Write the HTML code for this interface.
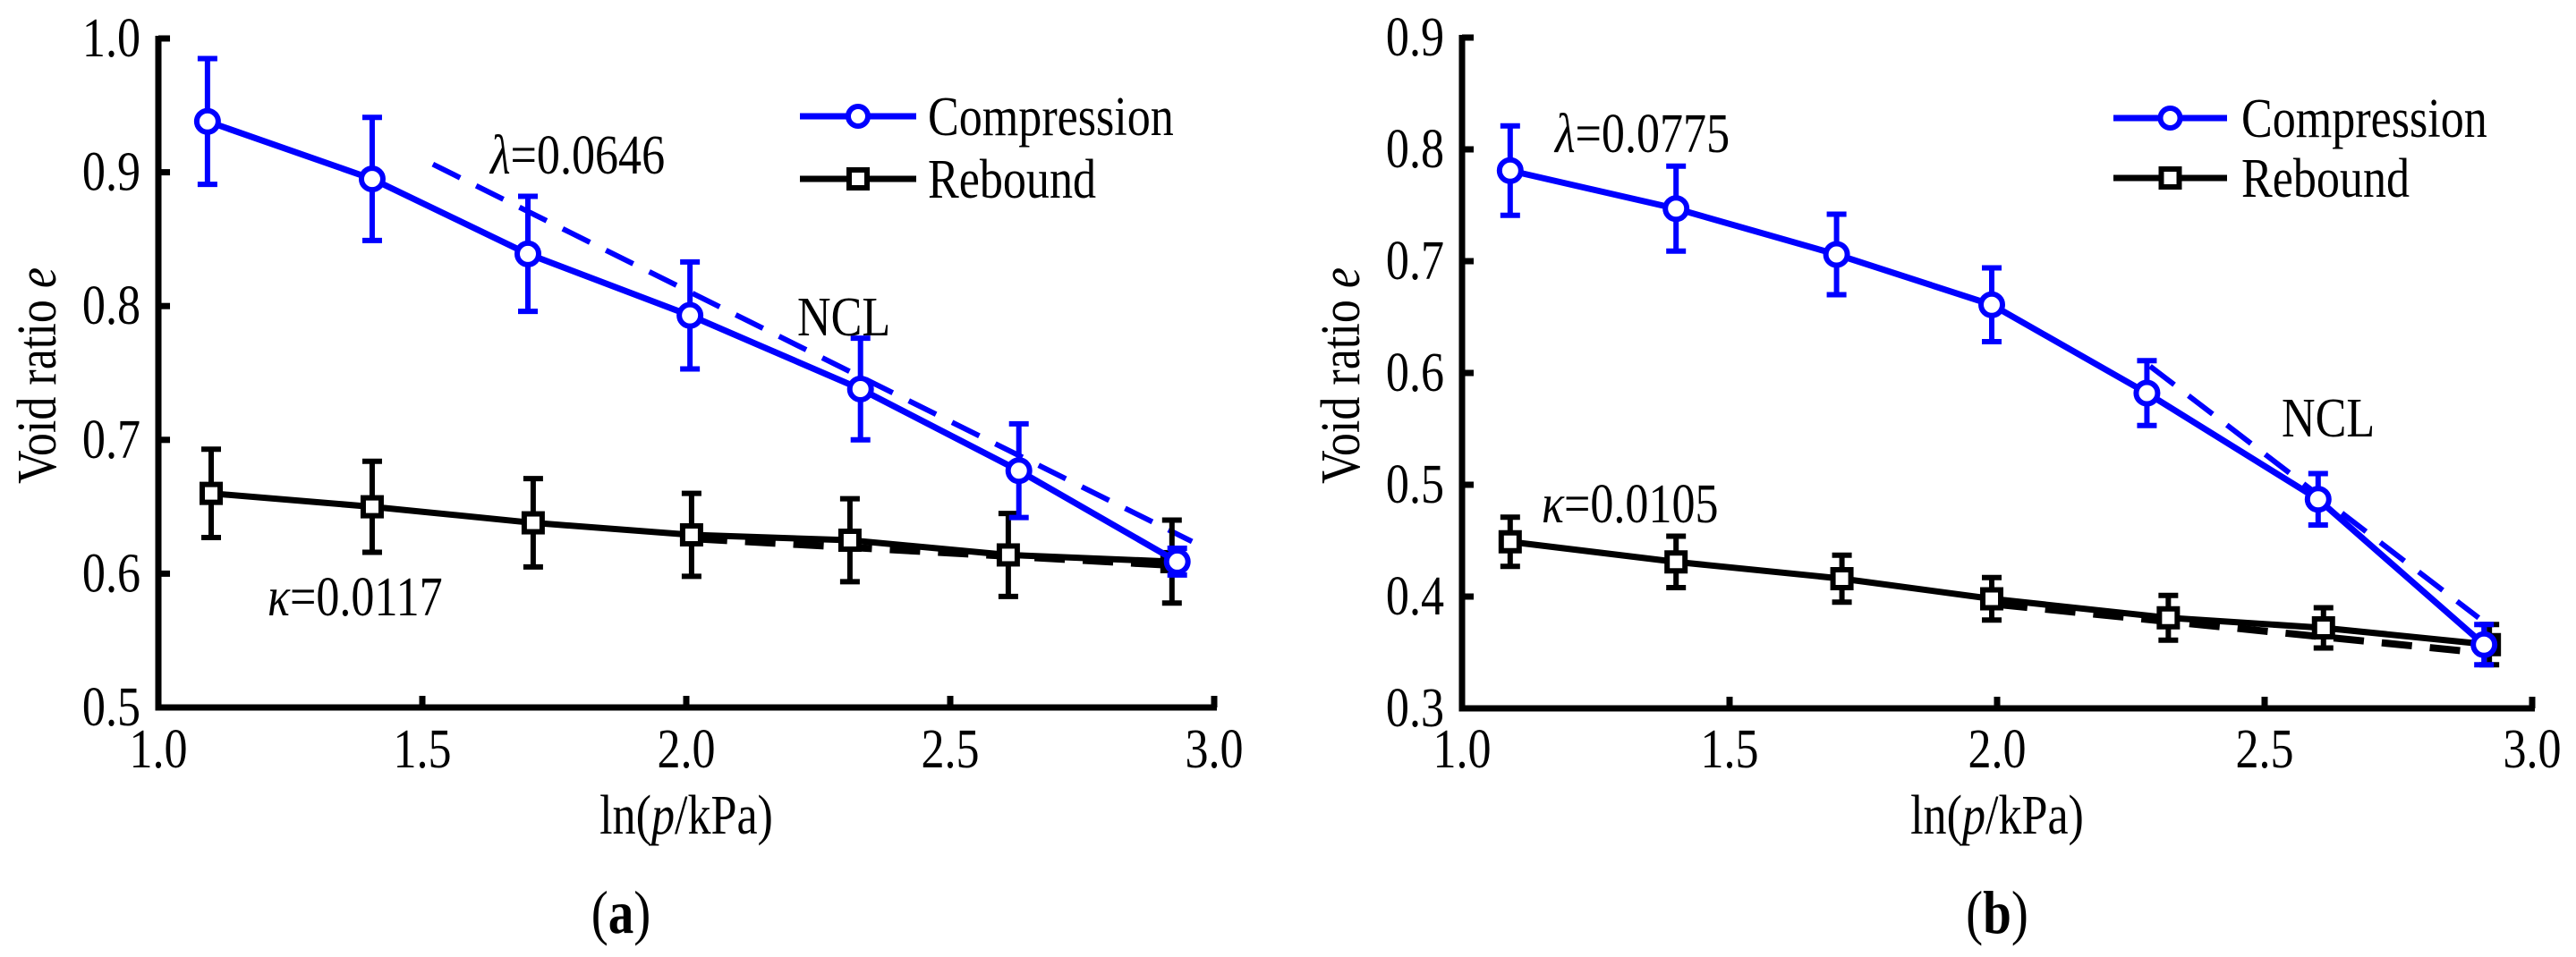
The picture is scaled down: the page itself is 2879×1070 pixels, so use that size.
<!DOCTYPE html>
<html><head><meta charset="utf-8"><style>
html,body{margin:0;padding:0;background:#fff;}
svg{display:block;}
svg text{font-family:"Liberation Serif","Times New Roman",serif;}
</style></head><body>
<svg id="chart" width="2879" height="1070" viewBox="0 0 2879 1070" font-family="Liberation Serif, serif" xmlns="http://www.w3.org/2000/svg"></svg>
<script>
// Panel (a) data
const aCompX = [1.093, 1.405, 1.70, 2.007, 2.33, 2.63, 2.93];
const aCompE = [0.938, 0.895, 0.839, 0.793, 0.738, 0.677, 0.609];
const aCompErr = [0.047, 0.046, 0.043, 0.040, 0.038, 0.035, 0.010];
const aRebX = [1.10, 1.405, 1.71, 2.01, 2.31, 2.61, 2.92];
const aRebE = [0.660, 0.650, 0.638, 0.629, 0.625, 0.614, 0.609];
const aRebErr = [0.033, 0.034, 0.033, 0.031, 0.031, 0.031, 0.031];
const aNclX = [1.52, 2.958];
const aNclE = [0.906, 0.624];
const aKapX = [2.02, 2.93];
const aKapE = [0.626, 0.606];
const aYTicks = [0.5, 0.6, 0.7, 0.8, 0.9, 1.0];
const aYLabels = ["0.5", "0.6", "0.7", "0.8", "0.9", "1.0"];
// Panel (b) data
const bCompX = [1.09, 1.40, 1.70, 1.99, 2.28, 2.60, 2.91];
const bCompE = [0.781, 0.747, 0.706, 0.661, 0.582, 0.487, 0.357];
const bCompErr = [0.040, 0.038, 0.036, 0.033, 0.029, 0.023, 0.018];
const bRebX = [1.09, 1.40, 1.71, 1.99, 2.32, 2.61, 2.92];
const bRebE = [0.449, 0.431, 0.416, 0.398, 0.381, 0.372, 0.357];
const bRebErr = [0.022, 0.023, 0.021, 0.019, 0.020, 0.018, 0.018];
const bNclX = [2.286, 2.90];
const bNclE = [0.606, 0.381];
const bKapX = [2.0, 2.90];
const bKapE = [0.393, 0.350];
const bYTicks = [0.3, 0.4, 0.5, 0.6, 0.7, 0.8, 0.9];
const bYLabels = ["0.3", "0.4", "0.5", "0.6", "0.7", "0.8", "0.9"];
const xTicks = [1.0, 1.5, 2.0, 2.5, 3.0];
const xLabels = ["1.0", "1.5", "2.0", "2.5", "3.0"];

const NS = "http://www.w3.org/2000/svg";
const svg = document.getElementById("chart");
const SQ = 0.84;
function mk(tag, attrs, parent, text) {
  const el = document.createElementNS(NS, tag);
  for (const k in attrs) el.setAttribute(k, attrs[k]);
  if (text !== undefined) el.textContent = text;
  (parent || svg).appendChild(el);
  return el;
}
function txt(parent, x, y, size, anchor, content, rot) {
  const t = mk("text", {x: 0, y: 0, "font-size": size, "text-anchor": anchor || "start",
    "font-family": "Liberation Serif, serif",
    transform: `translate(${x},${y})` + (rot ? " rotate(-90)" : "") + ` scale(${SQ},1)`}, parent);
  if (typeof content === "string") t.textContent = content;
  else content.forEach(p => mk("tspan", p[1] || {}, t, p[0]));
  return t;
}

function panel(cfg) {
  const g = mk("g", {});
  
  
  const sx = v => cfg.x0 + (v - 1.0) / 2.0 * (cfg.x1 - cfg.x0);
  const sy = v => cfg.yBot + (v - cfg.yMin) / (cfg.yMax - cfg.yMin) * (cfg.yTop - cfg.yBot);

  const ax = mk("path", {d: `M${cfg.x0},${cfg.yTop - 3} V${cfg.yBot} H${cfg.x1 + 3}`, fill: "none", stroke: "#000", "stroke-width": 7}, g);
  
  
  cfg.yTicks.forEach((t, i) => {
    const y = sy(t);
    const tk = mk("line", {x1: cfg.x0, x2: cfg.x0 + 13, y1: y, y2: y, stroke: "#000", "stroke-width": 7}, g);
    
    
    const lb = txt(g, cfg.x0 - 20, y + 20, 62, "end", cfg.yLabels[i]);
    
    
  });
  xTicks.forEach((t, i) => {
    const x = sx(t);
    const tk = mk("line", {x1: x, x2: x, y1: cfg.yBot, y2: cfg.yBot - 13, stroke: "#000", "stroke-width": 7}, g);
    
    
    const lb = txt(g, x, 858, 62, "middle", xLabels[i]);
    
    
  });
  const yt = txt(g, cfg.x0 - 115, 420, 62, "middle", [["Void ratio "], ["e", {"font-style": "italic"}]], true);
  
  
  const xt = txt(g, (cfg.x0 + cfg.x1) / 2, 932, 62, "middle", [["ln("], ["p", {"font-style": "italic"}], ["/kPa)"]]);
  
  
  const pl = txt(g, cfg.capX, 1043, 68, "middle", [["("], [cfg.letter, {"font-weight": "bold"}], [")"]]);
  
  

  const d1 = mk("line", {x1: sx(cfg.nclX[0]), y1: sy(cfg.nclE[0]), x2: sx(cfg.nclX[1]), y2: sy(cfg.nclE[1]), stroke: "#0000ff", "stroke-width": 6, "stroke-dasharray": "34,20"}, g);
  
  
  const d2 = mk("line", {x1: sx(cfg.kapX[0]), y1: sy(cfg.kapE[0]), x2: sx(cfg.kapX[1]), y2: sy(cfg.kapE[1]), stroke: "#000", "stroke-width": 8, "stroke-dasharray": "34,20"}, g);
  
  

  function series(xs, es, errs, color, marker, nm) {
    const sg = mk("g", {}, g);
    
    
    const pts = xs.map((x, i) => sx(x) + "," + sy(es[i])).join(" ");
    const ln = mk("polyline", {points: pts, fill: "none", stroke: color, "stroke-width": 7}, sg);
    
    
    xs.forEach((x, i) => {
      const cx = sx(x), top = sy(es[i] + errs[i]), bot = sy(es[i] - errs[i]);
      const eb = mk("path", {d: `M${cx},${top} V${bot} M${cx - 11},${top} H${cx + 11} M${cx - 11},${bot} H${cx + 11}`, stroke: color, "stroke-width": 6, fill: "none"}, sg);
      
      
    });
    xs.forEach((x, i) => {
      const cx = sx(x), cy = sy(es[i]);
      let m;
      if (marker === "circle") m = mk("circle", {cx: cx, cy: cy, r: 12, fill: "#fff", stroke: color, "stroke-width": 6}, sg);
      else m = mk("rect", {x: cx - 10, y: cy - 10, width: 20, height: 20, fill: "#fff", stroke: color, "stroke-width": 6}, sg);
      
      
    });
  }
  series(cfg.rebX, cfg.rebE, cfg.rebErr, "#000", "square", "rebound");
  series(cfg.compX, cfg.compE, cfg.compErr, "#0000ff", "circle", "compression");

  const lt = txt(g, cfg.lam[0], cfg.lam[1], 62, "start", [["λ", {"font-style": "italic"}], ["=" + cfg.lamText]]);
  
  
  const kt = txt(g, cfg.kap[0], cfg.kap[1], 62, "start", [["κ", {"font-style": "italic"}], ["=" + cfg.kapText]]);
  
  
  const nt = txt(g, cfg.ncl[0], cfg.ncl[1], 62, "start", "NCL");
  
  

  const lg = mk("g", {}, g);
  
  
  const L = cfg.leg;
  const e1 = mk("g", {}, lg);
  
  
  mk("line", {x1: L[0], x2: L[1], y1: L[3], y2: L[3], stroke: "#0000ff", "stroke-width": 7}, e1);
  mk("circle", {cx: (L[0] + L[1]) / 2, cy: L[3], r: 11, fill: "#fff", stroke: "#0000ff", "stroke-width": 6}, e1);
  txt(e1, L[2], L[3] + 21, 62, "start", "Compression");
  const e2 = mk("g", {}, lg);
  
  
  mk("line", {x1: L[0], x2: L[1], y1: L[4], y2: L[4], stroke: "#000", "stroke-width": 7}, e2);
  mk("rect", {x: (L[0] + L[1]) / 2 - 10, y: L[4] - 10, width: 20, height: 20, fill: "#fff", stroke: "#000", "stroke-width": 6}, e2);
  txt(e2, L[2], L[4] + 21, 62, "start", "Rebound");
}

panel({name: "panel-a", letter: "a", x0: 177, x1: 1357, yTop: 43, yBot: 791, yMin: 0.5, yMax: 1.0,
  yTicks: aYTicks, yLabels: aYLabels, capX: 694,
  compX: aCompX, compE: aCompE, compErr: aCompErr, rebX: aRebX, rebE: aRebE, rebErr: aRebErr,
  nclX: aNclX, nclE: aNclE, kapX: aKapX, kapE: aKapE,
  lam: [548, 194], lamText: "0.0646", kap: [299, 688], kapText: "0.0117", ncl: [891, 375],
  leg: [894, 1024, 1037, 130, 200]});
panel({name: "panel-b", letter: "b", x0: 1634, x1: 2830, yTop: 42, yBot: 792, yMin: 0.3, yMax: 0.9,
  yTicks: bYTicks, yLabels: bYLabels, capX: 2232,
  compX: bCompX, compE: bCompE, compErr: bCompErr, rebX: bRebX, rebE: bRebE, rebErr: bRebErr,
  nclX: bNclX, nclE: bNclE, kapX: bKapX, kapE: bKapE,
  lam: [1738, 170], lamText: "0.0775", kap: [1723, 584], kapText: "0.0105", ncl: [2550, 488],
  leg: [2362, 2489, 2505, 132, 199]});
</script>
</body></html>
